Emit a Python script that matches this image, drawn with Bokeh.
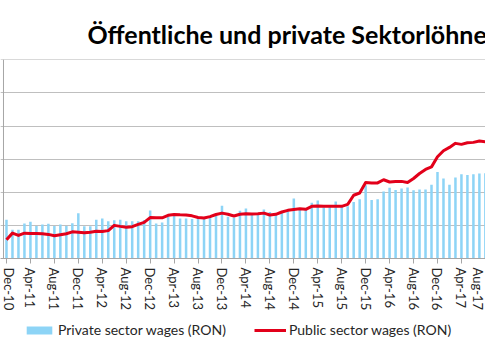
import pandas as pd
from bokeh.plotting import figure
from bokeh.layouts import column
from bokeh.models import (ColumnDataSource, FixedTicker, Span, Legend, LegendItem,
                          Range1d, Grid)
from bokeh.embed import file_html
from bokeh.resources import INLINE

# Monthly categories Dec-10 ... Aug-17
months = list(pd.date_range("2010-12-01", periods=81, freq="MS").strftime("%b-%y"))

private_wages = [1586, 1435, 1435, 1530, 1556, 1489, 1515, 1526, 1492, 1515,
                 1489, 1533, 1682, 1488, 1488, 1586, 1602, 1564, 1576, 1586,
                 1564, 1564, 1564, 1582, 1723, 1530, 1545, 1636, 1662, 1602,
                 1602, 1598, 1598, 1602, 1626, 1652, 1798, 1632, 1617, 1720,
                 1753, 1674, 1677, 1738, 1702, 1686, 1702, 1738, 1905, 1738,
                 1738, 1841, 1874, 1773, 1792, 1861, 1788, 1788, 1853, 1894,
                 2106, 1883, 1894, 2011, 2068, 2035, 2056, 2071, 2030, 2041,
                 2041, 2114, 2306, 2208, 2114, 2223, 2273, 2262, 2273, 2283,
                 2288]

public_wages = [1283, 1383, 1348, 1383, 1379, 1379, 1374, 1364, 1344, 1359,
                1374, 1402, 1398, 1389, 1397, 1412, 1406, 1421, 1500, 1485,
                1473, 1480, 1515, 1545, 1618, 1617, 1614, 1652, 1664, 1659,
                1658, 1644, 1618, 1612, 1632, 1664, 1685, 1667, 1641, 1667,
                1674, 1671, 1674, 1685, 1656, 1667, 1702, 1727, 1738, 1750,
                1742, 1788, 1792, 1788, 1788, 1788, 1788, 1818, 1955, 1989,
                2147, 2141, 2141, 2189, 2155, 2162, 2164, 2147, 2208, 2283,
                2344, 2383, 2535, 2626, 2677, 2738, 2723, 2747, 2753, 2773,
                2762]

y_ticks = [1000, 1500, 2000, 2500, 3000, 3500, 4000]
label_every = 4
series_names = ["Private sector wages (RON)", "Public sector wages (RON)"]
bar_color = "#8DD4F6"
line_color = "#E2001A"

idx = list(range(len(months)))
src = ColumnDataSource(dict(x=idx, month=months, private=private_wages, public=public_wages))

p = figure(frame_width=485, frame_height=199,
           x_range=Range1d(-1.0, 80.02), y_range=Range1d(y_ticks[0], y_ticks[-1] + 4),
           output_backend="svg", toolbar_location=None, y_axis_location=None,
           min_border_left=0, min_border_right=0, min_border_top=59, min_border_bottom=0,
           title="Öffentliche und private Sektorlöhne")
p.outline_line_color = None
p.background_fill_color = "white"
p.border_fill_color = "white"

p.title.text_font = "Lato"
p.title.text_font_style = "bold"
p.title.text_font_size = "25px"
p.title.text_color = "#000000"
p.title.align = "left"
p.title.offset = 87
p.title.standoff = 22

p.xgrid.visible = False
grid = Grid(dimension=1, ticker=FixedTicker(ticks=y_ticks[1:]),
            grid_line_color="#BFBFBF", grid_line_width=1)
p.add_layout(grid)

bars = p.vbar(x="x", top="private", bottom=y_ticks[0], width=0.42,
              fill_color=bar_color, line_color=None, source=src)
line = p.line(x="x", y="public", line_color=line_color, line_width=3,
              line_join="round", source=src)

p.add_layout(Span(location=-0.5, dimension="height", line_color="#A6A6A6", line_width=1))

ticks = list(range(0, len(months), label_every))
p.xaxis.ticker = FixedTicker(ticks=ticks)
p.xaxis.major_label_overrides = {i: months[i] for i in ticks}
p.xaxis.major_label_orientation = "vertical"
p.xaxis.major_label_text_font = "Lato"
p.xaxis.major_label_text_font_size = "13px"
p.xaxis.major_label_text_color = "#262626"
p.xaxis.major_label_standoff = 4
p.xaxis.axis_line_color = "#A6A6A6"
p.xaxis.major_tick_line_color = "#A6A6A6"
p.xaxis.major_tick_in = 0
p.xaxis.major_tick_out = 5
p.xaxis.minor_tick_line_color = None

# Legend strip below the chart (same series, drawn off-range so only the legend shows)
pl = figure(width=485, height=45, x_range=Range1d(-1000, -999), y_range=Range1d(0, 1),
            output_backend="svg", toolbar_location=None,
            x_axis_location=None, y_axis_location=None, min_border=0)
pl.outline_line_color = None
pl.xgrid.visible = False
pl.ygrid.visible = False
lb = pl.vbar(x="x", top="private", bottom=0, width=0.42,
             fill_color=bar_color, line_color=None, source=src)
ll = pl.line(x="x", y="public", line_color=line_color, line_width=3, source=src)

legend = Legend(items=[LegendItem(label=series_names[0], renderers=[lb]),
                       LegendItem(label=series_names[1], renderers=[ll])],
                orientation="horizontal", location=(23, 20), spacing=28,
                glyph_width=32, glyph_height=10, label_height=10, label_standoff=3,
                padding=0, margin=0, border_line_color=None, background_fill_alpha=0,
                label_text_font="Lato", label_text_font_size="14px",
                label_text_color="#262626")
pl.add_layout(legend, "center")

layout = column(p, pl, spacing=0)
open("out.html", "w").write(file_html(layout, INLINE))
